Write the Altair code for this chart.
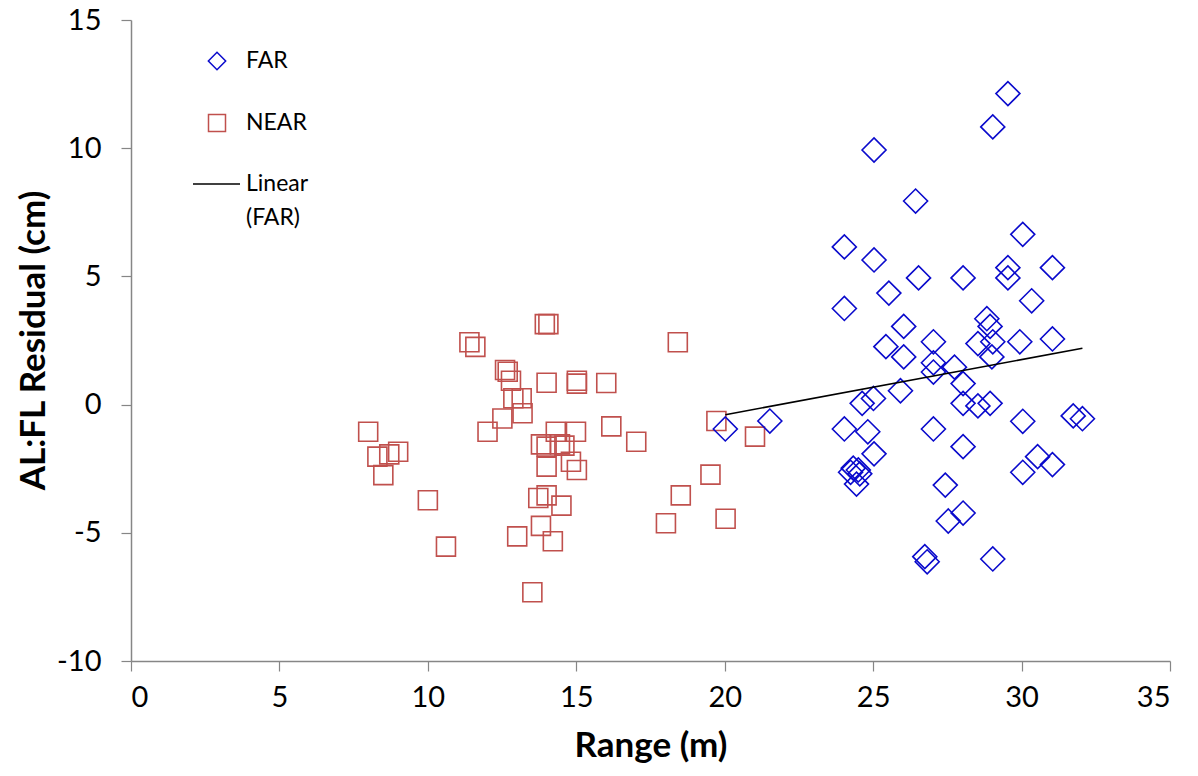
import altair as alt
import pandas as pd

# FAR series: range (m) and AL:FL residual (cm)
far_range = [29.54, 29.03, 25.03, 26.43, 30.04, 24.03, 25.03, 26.53, 28.03, 29.54,
             29.54, 31.04, 25.53, 30.34, 24.03, 26.03, 28.83, 28.94, 29.03, 29.94,
             31.04, 27.03, 25.43, 28.53, 26.03, 27.03, 27.03, 27.74, 28.03, 29.00,
             25.92, 25.01, 24.63, 28.03, 28.53, 28.94, 30.04, 31.74, 32.05, 20.02,
             21.52, 24.03, 24.82, 27.03, 28.03, 25.03, 30.54, 30.04, 31.04, 24.24,
             24.33, 24.50, 24.55, 24.44, 27.43, 27.53, 28.03, 26.74, 26.82, 29.03]
far_resid = [12.13, 10.83, 9.93, 7.94, 6.64, 6.15, 5.64, 4.94, 4.94, 5.34,
             4.94, 5.34, 4.35, 4.05, 3.75, 3.05, 3.35, 3.05, 2.45, 2.45,
             2.56, 2.45, 2.26, 2.38, 1.86, 1.63, 1.27, 1.46, 0.82, 1.86,
             0.54, 0.24, 0.05, 0.05, -0.05, 0.05, -0.65, -0.44, -0.55, -0.95,
             -0.64, -0.95, -1.06, -0.95, -1.64, -1.92, -2.03, -2.64, -2.34, -2.64,
             -2.48, -2.55, -2.70, -3.10, -3.14, -4.54, -4.23, -5.93, -6.13, -6.02]

# NEAR series
near_range = [13.94, 14.06, 11.40, 11.60, 18.42, 12.60, 12.69, 12.80, 14.00, 15.02,
              15.02, 16.01, 12.88, 13.16, 12.51, 13.19, 7.99, 12.01, 14.31, 14.99,
              16.18, 17.02, 19.72, 21.02, 13.81, 14.00, 14.45, 14.60, 14.00, 14.82,
              15.02, 8.30, 8.70, 9.00, 8.50, 10.00, 13.72, 14.00, 14.50, 13.81,
              13.01, 14.21, 10.61, 13.52, 19.52, 18.52, 18.02, 20.03]
near_resid = [3.14, 3.14, 2.43, 2.25, 2.43, 1.35, 1.28, 0.93, 0.85, 0.93,
              0.82, 0.84, 0.25, 0.25, -0.54, -0.34, -1.06, -1.06, -1.06, -1.06,
              -0.85, -1.45, -0.64, -1.25, -1.55, -1.64, -1.55, -1.60, -2.42, -2.23,
              -2.55, -2.03, -1.94, -1.84, -2.75, -3.73, -3.64, -3.54, -3.94, -4.73,
              -5.14, -5.33, -5.54, -7.32, -2.73, -3.54, -4.63, -4.45]

series_names = ["FAR", "NEAR"]
trend_label = ["Linear", "(FAR)"]

FAR_COLOR = "#0A0ACC"
NEAR_COLOR = "#C0504D"
AXIS_GRAY = "#868686"
FONT = "Lato"

far = pd.DataFrame({"range": far_range, "resid": far_resid})
near = pd.DataFrame({"range": near_range, "resid": near_resid})

x_scale = alt.Scale(domain=[0, 35], nice=False, zero=False)
y_scale = alt.Scale(domain=[-10, 15], nice=False, zero=False)

x_enc = alt.X(
    "range:Q",
    scale=x_scale,
    axis=alt.Axis(
        values=[0, 5, 10, 15, 20, 25, 30, 35],
        labelExpr="'' + datum.value",
        title="Range (m)",
        grid=False,
        domainColor=AXIS_GRAY,
        domainWidth=1.5,
        tickColor=AXIS_GRAY,
        tickWidth=1.2,
        tickSize=10,
        labelFont=FONT,
        labelFontSize=29,
        labelColor="black",
        labelPadding=12,
        titleFont=FONT,
        titleFontSize=35,
        titleFontWeight="bold",
        titleColor="black",
        titleX=519.5,
        titleY=84,
        titleBaseline="middle",
        titleAlign="center",
    ),
)
y_enc = alt.Y(
    "resid:Q",
    scale=y_scale,
    axis=alt.Axis(
        values=[-10, -5, 0, 5, 10, 15],
        labelExpr="'' + datum.value",
        title="AL:FL Residual (cm)",
        grid=False,
        domainColor=AXIS_GRAY,
        domainWidth=1.5,
        tickColor=AXIS_GRAY,
        tickWidth=1.2,
        tickSize=10,
        labelFont=FONT,
        labelFontSize=29,
        labelColor="black",
        labelPadding=20,
        titleFont=FONT,
        titleFontSize=35,
        titleFontWeight="bold",
        titleColor="black",
        titleAngle=270,
        titleX=-98,
        titleY=320,
        titleBaseline="middle",
        titleAlign="center",
    ),
)

near_pts = alt.Chart(near).mark_point(
    shape="square", size=361, filled=False, color=NEAR_COLOR, strokeWidth=1.6, opacity=1
).encode(x=x_enc, y=y_enc)

far_pts = alt.Chart(far).mark_point(
    shape="diamond", size=576, filled=False, color=FAR_COLOR, strokeWidth=1.6, opacity=1
).encode(x="range:Q", y="resid:Q")

trend = alt.Chart(far).transform_regression(
    "range", "resid", method="linear"
).mark_line(color="black", strokeWidth=1.6).encode(x="range:Q", y="resid:Q")

# Legend block drawn in the upper-left of the plot area
legend_far = pd.DataFrame({"label": [series_names[0]]})
legend_near = pd.DataFrame({"label": [series_names[1]]})
legend_lin1 = pd.DataFrame({"label": [trend_label[0]]})
legend_lin2 = pd.DataFrame({"label": [trend_label[1]]})

text_style = dict(align="left", baseline="middle", font=FONT, fontSize=23, color="black")

leg_far_sym = alt.Chart(legend_far).mark_point(
    shape="diamond", size=300, filled=False, color=FAR_COLOR, strokeWidth=1.5, opacity=1
).encode(x=alt.value(86), y=alt.value(41))
leg_far_txt = alt.Chart(legend_far).mark_text(**text_style).encode(
    x=alt.value(115), y=alt.value(41), text="label:N"
)

leg_near_sym = alt.Chart(legend_near).mark_point(
    shape="square", size=289, filled=False, color=NEAR_COLOR, strokeWidth=1.5, opacity=1
).encode(x=alt.value(86), y=alt.value(103))
leg_near_txt = alt.Chart(legend_near).mark_text(**text_style).encode(
    x=alt.value(115), y=alt.value(103), text="label:N"
)

leg_line = alt.Chart(legend_lin1).mark_rule(color="black", strokeWidth=1.5).encode(
    x=alt.value(62), x2=alt.value(109), y=alt.value(164)
)
leg_lin1_txt = alt.Chart(legend_lin1).mark_text(**text_style).encode(
    x=alt.value(115), y=alt.value(164), text="label:N"
)
leg_lin2_txt = alt.Chart(legend_lin2).mark_text(**text_style).encode(
    x=alt.value(115), y=alt.value(198), text="label:N"
)

chart = alt.layer(
    near_pts, far_pts, trend,
    leg_far_sym, leg_far_txt, leg_near_sym, leg_near_txt,
    leg_line, leg_lin1_txt, leg_lin2_txt,
).properties(
    width=1039,
    height=641,
    autosize=alt.AutoSizeParams(type="none"),
    padding={"left": 131, "top": 20, "right": 28, "bottom": 115},
    background="white",
).configure_view(stroke=None)

chart.save("out.html", embed_options={"renderer": "svg", "actions": False})
